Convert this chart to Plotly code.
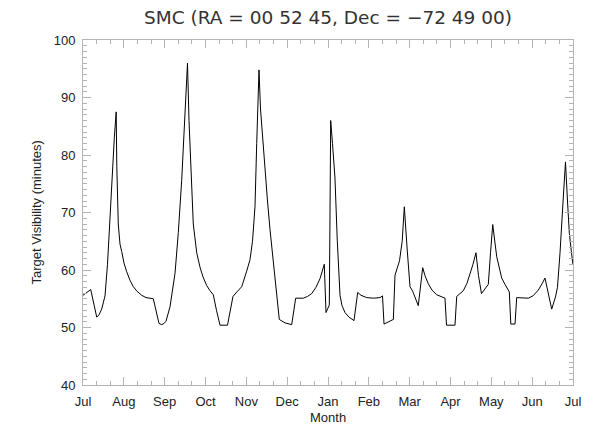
import plotly.graph_objects as go

# Months since 1 July
month_pos = [0.000, 0.189, 0.336, 0.392, 0.458, 0.539, 0.600, 0.661, 0.710, 0.767,
             0.813, 0.828, 0.864, 0.906, 0.948, 1.004, 1.070, 1.151, 1.232, 1.322,
             1.438, 1.543, 1.722, 1.788, 1.861, 1.927, 1.984, 2.033, 2.131, 2.253,
             2.334, 2.417, 2.498, 2.559, 2.596, 2.645, 2.701, 2.785, 2.865, 2.939,
             3.029, 3.110, 3.191, 3.269, 3.355, 3.539, 3.673, 3.771, 3.887, 4.009,
             4.090, 4.151, 4.212, 4.254, 4.310, 4.347, 4.408, 4.457, 4.518, 4.580,
             4.641, 4.702, 4.751, 4.807, 4.947, 5.111, 5.209, 5.395, 5.498, 5.601,
             5.706, 5.804, 5.909, 5.951, 6.032, 6.066, 6.110, 6.171, 6.228, 6.294,
             6.343, 6.416, 6.514, 6.637, 6.727, 6.808, 6.948, 7.110, 7.274, 7.335,
             7.372, 7.600, 7.641, 7.751, 7.817, 7.869, 7.935, 8.008, 8.074, 8.211,
             8.319, 8.376, 8.456, 8.547, 8.662, 8.865, 8.902, 9.110, 9.152, 9.314,
             9.404, 9.478, 9.551, 9.624, 9.686, 9.759, 9.845, 9.926, 9.980, 10.034,
             10.132, 10.254, 10.335, 10.440, 10.477, 10.580, 10.621, 10.905, 11.020, 11.150,
             11.241, 11.314, 11.478, 11.571, 11.620, 11.682, 11.763, 11.816, 11.865, 11.910,
             11.963, 12.000]

visibility = [55.6, 56.6, 51.8, 52.2, 53.2, 55.5, 61.0, 69.0, 77.0, 83.0,
              87.5, 78.0, 68.0, 64.5, 63.2, 61.2, 59.7, 58.2, 57.1, 56.3,
              55.6, 55.2, 55.0, 52.8, 50.7, 50.5, 50.7, 51.1, 53.6, 59.4,
              66.5, 75.6, 88.0, 96.0, 86.0, 77.0, 68.0, 63.0, 60.5, 58.8,
              57.3, 56.4, 55.7, 53.0, 50.4, 50.4, 55.4, 56.2, 57.1, 59.8,
              61.8, 65.0, 71.0, 82.0, 94.8, 88.0, 82.0, 77.0, 72.0, 67.0,
              63.0, 59.5, 55.5, 51.4, 50.8, 50.5, 55.1, 55.1, 55.4, 55.9,
              57.0, 58.5, 61.0, 52.6, 53.9, 86.0, 82.0, 76.0, 65.0, 55.6,
              53.8, 52.6, 51.8, 51.2, 56.1, 55.6, 55.2, 55.1, 55.2, 55.5,
              50.6, 51.4, 59.1, 61.6, 65.0, 71.0, 64.0, 57.1, 56.3, 53.8,
              60.4, 59.0, 57.6, 56.5, 55.7, 55.1, 50.4, 50.4, 55.4, 56.4,
              57.7, 59.3, 61.0, 63.0, 59.0, 55.9, 56.8, 57.5, 63.0, 67.9,
              62.3, 58.6, 57.5, 56.2, 50.6, 50.6, 55.2, 55.1, 55.5, 56.5,
              57.6, 58.6, 53.2, 55.3, 57.0, 63.0, 72.7, 78.8, 72.0, 66.4,
              63.0, 60.9]

month_ticks = [0, 1, 2, 3, 4, 5, 6, 7, 8, 9, 10, 11, 12]
month_labels = ["Jul", "Aug", "Sep", "Oct", "Nov", "Dec", "Jan",
                "Feb", "Mar", "Apr", "May", "Jun", "Jul"]

title_text = "SMC (RA = 00 52 45, Dec = \u221272 49 00)"
x_title = "Month"
y_title = "Target Visibility (minutes)"

axis_col = "#b4b4b4"
font_fam = "Liberation Sans, Arial, sans-serif"
text_col = "#222222"

fig = go.Figure()
fig.add_trace(go.Scatter(x=month_pos, y=visibility, mode="lines",
                         line=dict(color="black", width=1), showlegend=False,
                         hoverinfo="skip"))

# page body has an 8px margin, so the figure is shrunk and margins offset
fig.update_layout(
    width=592, height=421,
    margin=dict(l=75, r=27, t=32, b=44, autoexpand=False),
    paper_bgcolor="white", plot_bgcolor="white",
    font=dict(family=font_fam, size=13, color=text_col),
    title=dict(text=title_text, xref="paper", x=0.5, xanchor="center",
               yref="container", y=0.978, yanchor="middle",
               font=dict(family="DejaVu Sans, sans-serif", size=18.5, color="#333333")),
    annotations=[
        dict(text=x_title, xref="paper", yref="paper", x=0.5, y=-0.093,
             xanchor="center", yanchor="middle", showarrow=False,
             font=dict(size=13, color=text_col)),
        dict(text=y_title, xref="paper", yref="paper", x=-0.094, y=0.5,
             xanchor="center", yanchor="middle", showarrow=False, textangle=-90,
             font=dict(size=13, color=text_col)),
    ],
)

fig.update_xaxes(
    range=[0, 12], tickmode="array", tickvals=month_ticks, ticktext=month_labels,
    showgrid=False, zeroline=False, showline=True, linecolor=axis_col, linewidth=1,
    mirror="allticks", ticks="inside", ticklen=8, tickcolor=axis_col, tickwidth=1,
    minor=dict(ticks="inside", ticklen=4, tickcolor=axis_col, tickmode="linear",
               tick0=0, dtick=1/3, showgrid=False),
    ticklabelstandoff=4, tickfont=dict(size=13), automargin=False,
)
fig.update_yaxes(
    range=[40, 100], tickmode="linear", tick0=40, dtick=10,
    showgrid=False, zeroline=False, showline=True, linecolor=axis_col, linewidth=1,
    mirror="allticks", ticks="inside", ticklen=8, tickcolor=axis_col, tickwidth=1,
    minor=dict(ticks="inside", ticklen=4, tickcolor=axis_col, tickmode="linear",
               tick0=40, dtick=1, showgrid=False),
    ticklabelstandoff=4, tickfont=dict(size=13), automargin=False,
)

fig.write_html("out.html")
